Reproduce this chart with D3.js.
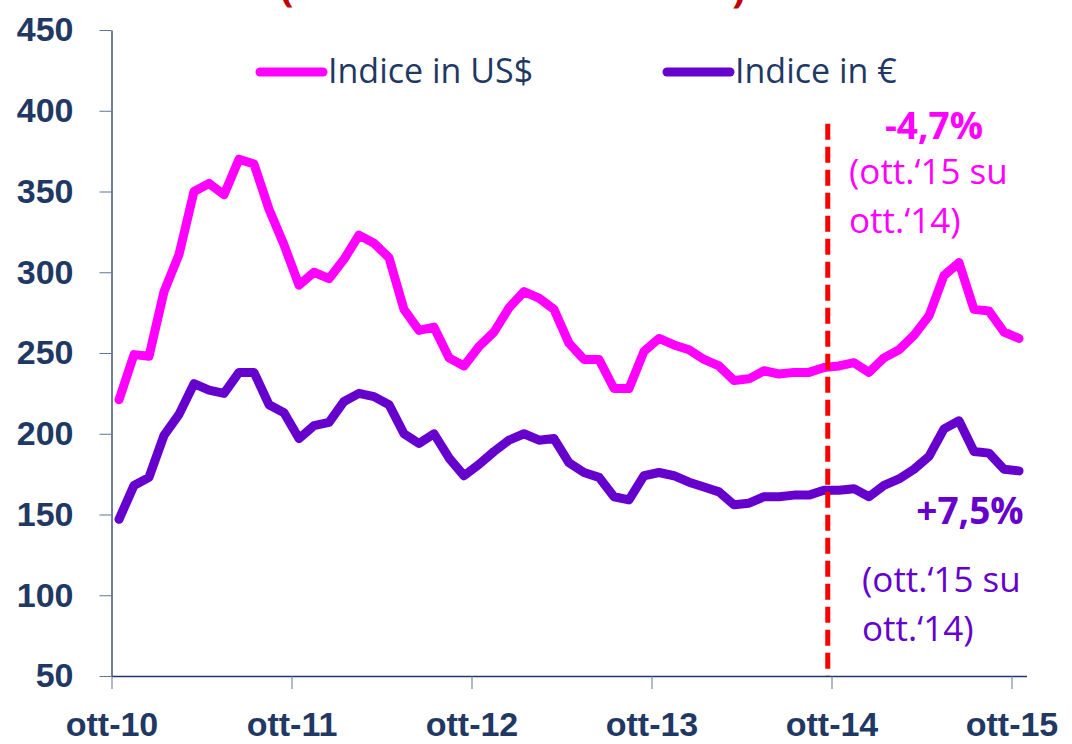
<!DOCTYPE html>
<html lang="it">
<head>
<meta charset="UTF-8" />
<title>Indice in US$ / Indice in €</title>
<script src="https://cdn.jsdelivr.net/npm/d3@7"></script>
<style>
  html, body { margin: 0; padding: 0; background: #fff; }
  svg { display: block; font-family: "Open Sans", "DejaVu Sans", sans-serif; }
</style>
</head>
<body>
<svg id="chart"></svg>

<script>
/* --- data (monthly, ott-10 .. ott-15) --- */
const indexUSD = [221, 249, 248, 288, 311, 350, 355, 348, 370, 367, 339, 317,
                  292, 300, 296, 308, 323, 318, 309, 277, 264, 266, 247, 242,
                  254, 263, 278, 288, 284, 277, 256, 246, 246, 228, 228, 251,
                  259, 255, 252, 246, 242, 233, 234, 239, 237, 238, 238, 241,
                  242, 244, 238, 247, 252, 261, 273, 298, 306, 277, 276, 263, 259];
const indexEUR = [147, 168, 173, 199, 212, 231, 227, 225, 238, 238, 218, 213,
                  197, 205, 207, 220, 225, 223, 218, 200, 194, 200, 185, 174,
                  181, 189, 196, 200, 196, 197, 182, 176, 173, 161, 159, 174,
                  176, 174, 170, 167, 164, 156, 157, 161, 161, 162, 162, 165,
                  165, 166, 161, 168, 172, 178, 186, 203, 208, 189, 188, 178, 177];
const seriesNames = ['Indice in US$', 'Indice in €'];
const xTickLabels = ['ott-10', 'ott-11', 'ott-12', 'ott-13', 'ott-14', 'ott-15'];
const yTicks = [50, 100, 150, 200, 250, 300, 350, 400, 450];
const markerMonth = 47.25;   // red dashed separator (months from ott-10)
const markerTop = 392;
const notesUSD = ['-4,7%', '(ott.‘15 su', 'ott.‘14)'];
const notesEUR = ['+7,5%', '(ott.‘15 su', 'ott.‘14)'];

const W = 1072, H = 744;
const NAVY = '#1F3864', PINK = '#FF00FF', PURPLE = '#6600CC';

const svg = d3.select('#chart').attr('width', W).attr('height', H);

// months sit in the middle of each month slot, ticks on the boundaries
const x = d3.scaleLinear().domain([-0.5, indexUSD.length - 0.5]).range([111.5, 1026.5]);
const y = d3.scaleLinear().domain([50, 450]).range([676, 30]);

/* --- cut-off title at the very top (only the parentheses peek in) --- */
svg.append('text').attr('x', 280).attr('y', 1).attr('fill', '#C00000')
  .style('font-size', '40px').style('font-weight', 700).text('(');
svg.append('text').attr('x', 732).attr('y', 2).attr('fill', '#C00000')
  .style('font-size', '40px').style('font-weight', 700).text(')');

/* --- axes --- */
const yAxis = svg.append('g')
  .attr('transform', `translate(${x.range()[0]},0)`)
  .call(d3.axisLeft(y).tickValues(yTicks).tickSize(12).tickSizeOuter(0).tickPadding(26));
yAxis.select('.domain').attr('stroke', NAVY).attr('stroke-width', 1.3);
yAxis.selectAll('.tick line').attr('stroke', '#5F7593');
yAxis.selectAll('.tick text')
  .attr('fill', NAVY).style('font-size', '34px').style('font-weight', 700);

const xTickPos = xTickLabels.map((d, i) => -0.5 + 12 * i);
const xAxis = svg.append('g')
  .attr('transform', `translate(0,${y(50)})`)
  .call(d3.axisBottom(x).tickValues(xTickPos).tickSize(13).tickSizeOuter(0).tickPadding(23)
    .tickFormat((d, i) => xTickLabels[i]));
xAxis.select('.domain').attr('stroke', NAVY).attr('stroke-width', 1.3);
xAxis.selectAll('.tick line').attr('stroke', '#5F7593');
xAxis.selectAll('.tick text')
  .attr('fill', NAVY).style('font-size', '34px').style('font-weight', 700);

/* --- series --- */
const line = d3.line().x((d, i) => x(i)).y(d => y(d));
[[indexUSD, PINK], [indexEUR, PURPLE]].forEach(([data, col]) => {
  svg.append('path')
    .datum(data)
    .attr('d', line)
    .attr('fill', 'none')
    .attr('stroke', col)
    .attr('stroke-width', 9)
    .attr('stroke-linejoin', 'round')
    .attr('stroke-linecap', 'round');
});

/* --- red dashed separator --- */
svg.append('line')
  .attr('x1', x(markerMonth)).attr('x2', x(markerMonth))
  .attr('y1', y(markerTop)).attr('y2', y(50))
  .attr('stroke', '#FF0000').attr('stroke-width', 5)
  .attr('stroke-dasharray', '16,7');

/* --- legend --- */
const legend = [
  { name: seriesNames[0], col: PINK, x0: 260 },
  { name: seriesNames[1], col: PURPLE, x0: 667 }
];
legend.forEach(l => {
  svg.append('line')
    .attr('x1', l.x0).attr('x2', l.x0 + 63).attr('y1', 72).attr('y2', 72)
    .attr('stroke', l.col).attr('stroke-width', 9).attr('stroke-linecap', 'round');
  svg.append('text')
    .attr('x', l.x0 + 68).attr('y', 83)
    .attr('fill', NAVY).style('font-size', '34px')
    .text(l.name);
});

/* --- annotations --- */
function note(lines, col, cx, y0, left, y1) {
  svg.append('text')
    .attr('x', cx).attr('y', y0).attr('text-anchor', 'middle')
    .attr('fill', col).style('font-size', '37px').style('font-weight', 700)
    .text(lines[0]);
  lines.slice(1).forEach((t, i) => {
    svg.append('text')
      .attr('x', left).attr('y', y1 + i * 49)
      .attr('fill', col).style('font-size', '35px')
      .text(t);
  });
}
note(notesUSD, PINK, 934, 139, 849, 184);
note(notesEUR, PURPLE, 970, 524, 862, 592);
</script>
</body>
</html>
